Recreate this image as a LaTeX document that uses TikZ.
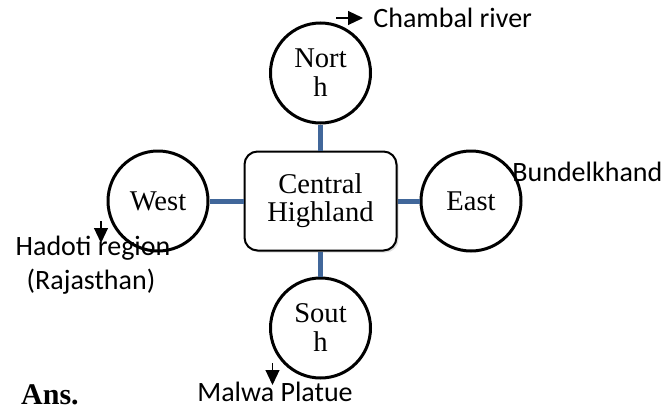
\documentclass[tikz,border=0pt]{standalone}
\usepackage{fontspec}
\setmainfont{Liberation Serif}
\newfontfamily\lblfont{Carlito}
\usetikzlibrary{arrows.meta,shadows}
\definecolor{linkblue}{HTML}{41679A}
\begin{document}
\begin{tikzpicture}[x=0.5pt,y=-0.5pt,
  ring/.style={circle,draw,line width=1.5pt,minimum size=50pt,inner sep=0pt,
    font=\fontsize{14.3}{14.5}\selectfont,align=center,fill=white},
  hub/.style={draw,rounded corners=6.5pt,line width=1pt,minimum width=76pt,
    minimum height=49.5pt,font=\fontsize{14.3}{14}\selectfont,align=center,fill=white,
    drop shadow={shadow xshift=1pt,shadow yshift=-1pt,opacity=0.25}},
  conn/.style={draw=linkblue,line width=2.5pt},
  note/.style={font=\lblfont\fontsize{14}{14}\selectfont,inner sep=0pt},
  pointer/.style={-{Triangle[length=7.5pt,width=7pt]},line width=0.6pt}]
\useasboundingbox (0,0) rectangle (668,412);

% hub and satellites
\node[hub] (C) at (320.5,201) {Central\\Highland};
\node[ring] (N) at (320.5,73) {Nort\\h};
\node[ring] (W) at (158,201) {West};
\node[ring] (E) at (471,201) {East};
\node[ring] (S) at (320.5,328) {Sout\\h};

% connectors
\draw[conn] (N.south) -- (C.north);
\draw[conn] (C.south) -- (S.north);
\draw[conn] (W.east) -- (C.west);
\draw[conn] (C.east) -- (E.west);

% labels
\node[note,anchor=west] (chambal) at (373,18) {Chambal river};
\coordinate (chA) at (336,18);
\coordinate (chB) at (363,18);
\draw[pointer] (chA) -- (chB);

\node[note,anchor=west] (bundel) at (512,172) {Bundelkhand};

\node[note] (hadoti) at (93,248) {Hadoti region};
\node[note] (raj) at (91,282) {(Rajasthan)};
\coordinate (haA) at (101,221);
\coordinate (haB) at (101,243);
\draw[pointer] (haA) -- (haB);

\node[note] (malwa) at (275,392) {Malwa Platue};
\coordinate (maA) at (272.5,363);
\coordinate (maB) at (272.5,385);
\draw[pointer] (maA) -- (maB);

\node[font=\bfseries\fontsize{15}{15}\selectfont,inner sep=0pt] (ans) at (50,395) {Ans.};
\end{tikzpicture}
\end{document}
